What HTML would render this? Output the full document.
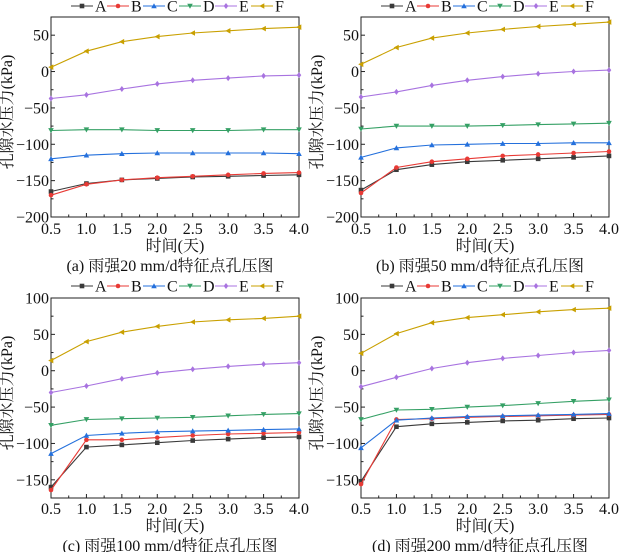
<!DOCTYPE html>
<html><head><meta charset="utf-8">
<style>
html,body{margin:0;padding:0;background:#fff;}
svg{display:block;font-family:"Liberation Serif","Noto Serif CJK SC",serif;}
</style></head>
<body>
<svg id="chart" width="619" height="552" viewBox="0 0 619 552" xmlns="http://www.w3.org/2000/svg"></svg>
<script>
const xValues = [0.5,1.0,1.5,2.0,2.5,3.0,3.5,4.0];
const seriesNames = ['A','B','C','D','E','F'];
const xTickLabels = ['0.5','1.0','1.5','2.0','2.5','3.0','3.5','4.0'];
const yTicksTop = [50,0,-50,-100,-150,-200];
const yTicksBottom = [100,50,0,-50,-100,-150];
const captions = ['(a) 雨强20 mm/d特征点孔压图','(b) 雨强50 mm/d特征点孔压图','(c) 雨强100 mm/d特征点孔压图','(d) 雨强200 mm/d特征点孔压图'];
const dataA20 = [-165,-154,-149,-147,-145,-144,-143,-142];
const dataB20 = [-170,-155,-149,-146,-144,-142,-140,-139];
const dataC20 = [-120,-115,-113,-112,-112,-112,-112,-113];
const dataD20 = [-81,-80,-80,-81,-81,-81,-80,-80];
const dataE20 = [-37,-32,-24,-17,-12,-9,-6,-5];
const dataF20 = [6,28,41,48,53,56,59,61];
const dataA50 = [-163,-135,-128,-124,-122,-120,-118,-116];
const dataB50 = [-167,-132,-124,-120,-116,-114,-112,-110];
const dataC50 = [-118,-105,-101,-100,-99,-99,-98,-98];
const dataD50 = [-79,-75,-75,-75,-74,-73,-72,-71];
const dataE50 = [-35,-28,-19,-12,-7,-3,0,2];
const dataF50 = [10,33,46,53,58,62,65,68];
const dataA100 = [-160,-105,-102,-99,-96,-94,-92,-91];
const dataB100 = [-164,-95,-95,-92,-89,-87,-86,-85];
const dataC100 = [-114,-89,-86,-84,-83,-82,-81,-80];
const dataD100 = [-75,-67,-66,-65,-64,-62,-60,-59];
const dataE100 = [-30,-21,-11,-3,2,6,9,11];
const dataF100 = [14,40,53,61,67,70,72,75];
const dataA200 = [-152,-77,-73,-71,-69,-68,-66,-65];
const dataB200 = [-156,-67,-66,-64,-63,-62,-61,-60];
const dataC200 = [-106,-68,-65,-63,-62,-61,-60,-59];
const dataD200 = [-67,-54,-53,-50,-48,-45,-42,-40];
const dataE200 = [-22,-9,3,11,17,21,25,28];
const dataF200 = [24,51,66,73,77,81,84,86];

const colors = ['#3a3a3a','#e83a35','#2470dc','#35a065','#a873e0','#c9a000'];
const markers = ['square','circle','tri-up','tri-down','diamond','tri-left'];
const NS='http://www.w3.org/2000/svg';
const svg=document.getElementById('chart');
function mk(tag,attrs,parent){const e=document.createElementNS(NS,tag);for(const k in attrs)e.setAttribute(k,attrs[k]);(parent||svg).appendChild(e);return e;}

const panels=[
 {x0:51,x1:299,y0:17,y1:217,ymin:-200,ymax:75,ticks:yTicksTop,data:[dataA20,dataB20,dataC20,dataD20,dataE20,dataF20],cap:captions[0],ty:0,name:'panel-a'},
 {x0:361,x1:609,y0:17,y1:217,ymin:-200,ymax:75,ticks:yTicksTop,data:[dataA50,dataB50,dataC50,dataD50,dataE50,dataF50],cap:captions[1],ty:0,name:'panel-b'},
 {x0:51,x1:299,y0:298,y1:498,ymin:-175,ymax:100,ticks:yTicksBottom,data:[dataA100,dataB100,dataC100,dataD100,dataE100,dataF100],cap:captions[2],ty:280,name:'panel-c'},
 {x0:361,x1:609,y0:298,y1:498,ymin:-175,ymax:100,ticks:yTicksBottom,data:[dataA200,dataB200,dataC200,dataD200,dataE200,dataF200],cap:captions[3],ty:280,name:'panel-d'}
];

function marker(g,type,x,y,c){
 const s=2.3;let e;
 if(type==='square')e=mk('rect',{x:x-s,y:y-s,width:2*s,height:2*s,fill:c},g);
 else if(type==='circle')e=mk('circle',{cx:x,cy:y,r:s,fill:c},g);
 else{let p;
  if(type==='tri-up')p=[[x,y-s-0.5],[x-s-0.5,y+s],[x+s+0.5,y+s]];
  else if(type==='tri-down')p=[[x,y+s+0.5],[x-s-0.5,y-s],[x+s+0.5,y-s]];
  else if(type==='diamond')p=[[x,y-s-0.7],[x+s,y],[x,y+s+0.7],[x-s,y]];
  else p=[[x-s-0.5,y],[x+s,y-s-0.5],[x+s,y+s+0.5]];
  e=mk('polygon',{points:p.map(q=>q.join(',')).join(' '),fill:c},g);}
 return e;
}

panels.forEach(P=>{
 const g=mk('g',{});
 
 
 const xs=v=>P.x0+(v-0.5)/3.5*(P.x1-P.x0);
 const ys=v=>P.y1-(v-P.ymin)/(P.ymax-P.ymin)*(P.y1-P.y0);
 const fr=mk('rect',{x:P.x0,y:P.y0,width:P.x1-P.x0,height:P.y1-P.y0,fill:'none',stroke:'#222','stroke-width':1},g);
 
 
 xValues.forEach((v,i)=>{
  const x=xs(v);
  mk('line',{x1:x,y1:P.y1,x2:x,y2:P.y1-4,stroke:'#222'},g);
  if(i<xValues.length-1){const xm=xs(v+0.25);mk('line',{x1:xm,y1:P.y1,x2:xm,y2:P.y1-2.5,stroke:'#222'},g);}
  const t=mk('text',{x:x,y:P.ty+234,'font-size':16,'text-anchor':'middle',fill:'#111'},g);
  t.textContent=xTickLabels[i];
  
  
 });
 P.ticks.forEach(v=>{
  const y=ys(v);
  mk('line',{x1:P.x0,y1:y,x2:P.x0+4,y2:y,stroke:'#222'},g);
  const ym=ys(v+25);if(v+25<=P.ymax)mk('line',{x1:P.x0,y1:ym,x2:P.x0+2.5,y2:ym,stroke:'#222'},g);
  const t=mk('text',{x:P.x0-2,y:y+5.5,'font-size':16,'text-anchor':'end',fill:'#111'},g);
  t.textContent=(v<0?'\u2212'+(-v):String(v));
  
  
 });
 const xt=mk('text',{x:(P.x0+P.x1)/2,y:P.ty+251,'font-size':16,'text-anchor':'middle',fill:'#111'},g);
 xt.textContent='时间(天)';
 
 
 const yc=(P.y0+P.y1)/2-5, yx=P.x0-39;
 const yt=mk('text',{x:yx,y:yc,'font-size':16,'text-anchor':'middle',fill:'#111',transform:`rotate(-90 ${yx} ${yc})`},g);
 yt.textContent='孔隙水压力(kPa)';
 
 
 const cp=mk('text',{x:(P.x0+P.x1)/2-5,y:P.ty+271,'font-size':16,'text-anchor':'middle',fill:'#111'},g);
 cp.textContent=P.cap;
 
 
 P.data.forEach((arr,si)=>{
  const sg=mk('g',{},g);
  
  
  const pts=arr.map((v,i)=>xs(xValues[i]).toFixed(1)+','+ys(v).toFixed(1)).join(' ');
  mk('polyline',{points:pts,fill:'none',stroke:colors[si],'stroke-width':1.1},sg);
  arr.forEach((v,i)=>{const m=marker(sg,markers[si],xs(xValues[i]),ys(v),colors[si]);
   
   });
 });
 const lg=mk('g',{},g);
 
 
 const lx0=P.x0+20, step=36;
 seriesNames.forEach((n,si)=>{
  const lx=lx0+si*step, ly=P.ty+6;
  const eg=mk('g',{},lg);
  
  
  mk('line',{x1:lx,y1:ly,x2:lx+22,y2:ly,stroke:colors[si],'stroke-width':1.1},eg);
  marker(eg,markers[si],lx+11,ly,colors[si]);
  const t=mk('text',{x:lx+24,y:ly+5.5,'font-size':16,fill:'#111'},eg);
  t.textContent=n;
 });
});
</script>
</body></html>
